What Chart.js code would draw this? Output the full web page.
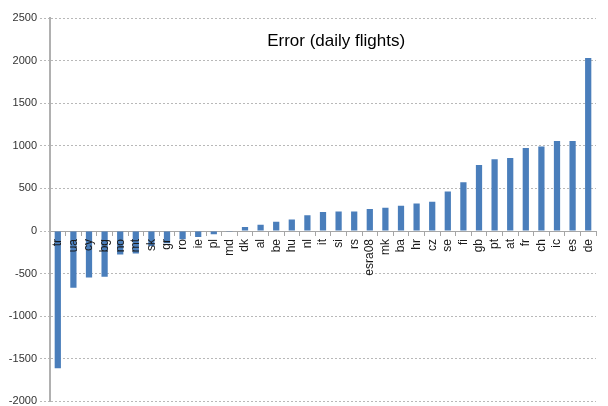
<!DOCTYPE html>
<html>
<head>
<meta charset="utf-8">
<script src="https://cdn.jsdelivr.net/npm/chart.js@4.4.0/dist/chart.umd.min.js"></script>
<style>
  html, body { margin: 0; padding: 0; background: #fff; overflow: hidden; }
  #wrap { width: 608px; height: 411px; }
</style>
</head>
<body>
<div id="wrap"><canvas id="errChart"></canvas></div>
<script>
// country codes, sorted by error
const countries = ["tr", "ua", "cy", "bg", "no", "mt", "sk", "gr", "ro", "ie", "pl", "md",
  "dk", "al", "be", "hu", "nl", "it", "si", "rs", "esra08", "mk", "ba", "hr", "cz",
  "se", "fi", "gb", "pt", "at", "fr", "ch", "ic", "es", "de"];

// error in daily flights
const errors = [-1610, -666, -545, -537, -276, -265, -175, -145, -97, -70, -39, -10,
  47, 74, 109, 136, 185, 222, 230, 230, 257, 273, 296, 323, 343,
  464, 573, 776, 842, 857, 974, 993, 1056, 1056, 2030];

const yMin = -2000;
const yMax = 2500;
const yStep = 500;
const chartTitle = "Error (daily flights)";

// draws the title inside the plot area, like the original
const titleInside = {
  id: "titleInside",
  afterDraw(chart) {
    const ctx = chart.ctx;
    const area = chart.chartArea;
    ctx.save();
    ctx.font = "17px 'Liberation Sans', Arial, sans-serif";
    ctx.fillStyle = "#000";
    ctx.textAlign = "center";
    ctx.textBaseline = "middle";
    ctx.fillText(chartTitle, area.left + area.width * 0.524, area.top + 23);
    ctx.restore();
  }
};

const ctx = document.getElementById("errChart").getContext("2d");
new Chart(ctx, {
  type: "bar",
  data: {
    labels: countries,
    datasets: [{
      label: "Error",
      data: errors,
      backgroundColor: "#4a7ebb",
      barPercentage: 0.4,
      categoryPercentage: 1.0
    }]
  },
  options: {
    responsive: true,
    maintainAspectRatio: false,
    animation: false,
    layout: { padding: { top: 18, right: 12, bottom: 0, left: 0 } },
    plugins: {
      legend: { display: false },
      tooltip: { enabled: false }
    },
    scales: {
      x: {
        position: { y: 0 },
        grid: {
          display: true,
          drawOnChartArea: false,
          drawTicks: true,
          tickLength: 4,
          color: "#a6a6a6"
        },
        border: { display: true, color: "#a6a6a6", width: 1 },
        ticks: {
          z: 1, // labels over the negative bars, as in the original
          autoSkip: false,
          minRotation: 90,
          maxRotation: 90,
          padding: 4,
          color: "#1a1a1a",
          font: { family: "'Liberation Sans', Arial, sans-serif", size: 12 }
        }
      },
      y: {
        min: yMin,
        max: yMax,
        afterFit(scale) { scale.width = 50; },
        grid: {
          color: "#b8b8b8",
          tickLength: 10,
          tickColor: "#b8b8b8",
          tickBorderDash: [2, 2]
        },
        border: { display: true, color: "#b0b0b0", width: 2, dash: [2, 2] },
        ticks: {
          stepSize: yStep,
          padding: 3,
          color: "#333",
          font: { family: "'Liberation Sans', Arial, sans-serif", size: 11 },
          callback: (v) => String(v)
        }
      }
    }
  },
  plugins: [titleInside]
});
</script>
</body>
</html>
